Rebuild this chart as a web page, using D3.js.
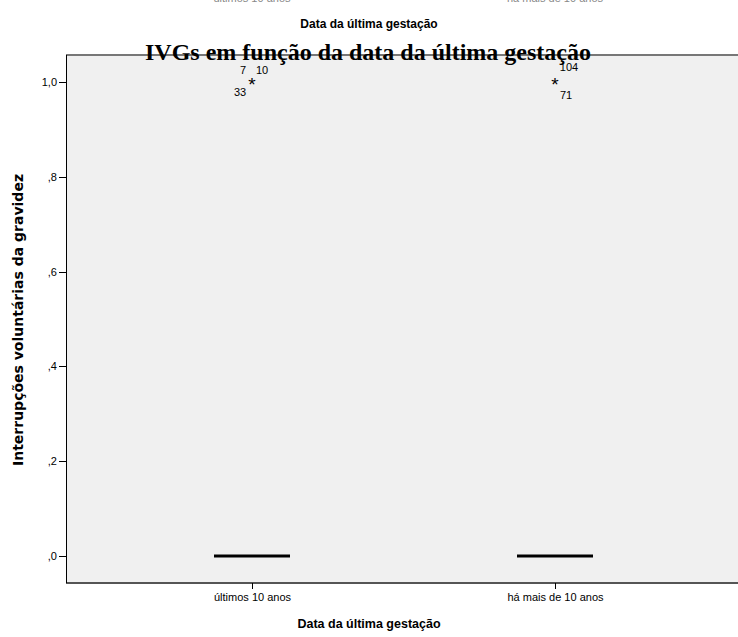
<!DOCTYPE html>
<html>
  <head>
    <title>IVGs em função da data da última gestação</title>
    <meta http-equiv="Content-Type" content="text/html; charset=utf-8">
    <style type="text/css">
      body { margin: 0; background: #fff; }
      .axis path { display: none; }
      .axis line { stroke: #000; shape-rendering: crispEdges; }
      .axis text { font-family: "Liberation Sans", Arial, sans-serif; font-size: 11px; fill: #000; }
    </style>
  </head>
  <body>
    <div id="main"></div>
    <script src="https://d3js.org/d3.v7.min.js"></script>
    <script>
    // Data
    var categories = ["últimos 10 anos", "há mais de 10 anos"];
    var medians = [0, 0];
    var q1 = [0, 0];
    var q3 = [0, 0];
    // extreme outliers (asterisks) with case labels
    var outlierCategory = ["últimos 10 anos", "há mais de 10 anos"];
    var outlierValue = [1, 1];
    var outlierLabels = [["7", "10", "33"], ["104", "71"]];
    var yTicks = [0, 0.2, 0.4, 0.6, 0.8, 1.0];

    var W = 738, H = 637;
    var margin = {top: 55, right: 0, bottom: 54, left: 66};
    var width = W - margin.left - margin.right,
        height = H - margin.top - margin.bottom;

    var svg = d3.select("#main").append("svg")
        .attr("width", W)
        .attr("height", H);

    // cropped remnants of a previous chart at the very top
    svg.append("g").selectAll("text")
      .data(categories)
      .enter().append("text")
        .attr("x", function(d, i) { return [252, 555][i]; })
        .attr("y", 2)
        .attr("text-anchor", "middle")
        .style("font-family", "Liberation Sans, Arial, sans-serif")
        .style("font-size", "11px")
        .style("fill", "#888")
        .text(function(d) { return d; });

    svg.append("text")
        .attr("x", 369)
        .attr("y", 28)
        .attr("text-anchor", "middle")
        .style("font-family", "Liberation Sans, Arial, sans-serif")
        .style("font-size", "12px")
        .style("font-weight", "bold")
        .text("Data da última gestação");

    var g = svg.append("g")
        .attr("transform", "translate(" + margin.left + "," + margin.top + ")");

    var x = d3.scalePoint().domain(categories).range([186, 489]);
    var y = d3.scaleLinear().domain([0, 1]).range([501, 27]);

    // plot background and frame
    g.append("rect")
        .attr("width", width)
        .attr("height", height)
        .attr("fill", "#f0f0f0");
    g.append("line")
        .attr("x1", 0).attr("x2", width).attr("y1", 0).attr("y2", 0)
        .attr("stroke", "#777").attr("stroke-width", 2);
    g.append("line")
        .attr("x1", 0).attr("x2", width).attr("y1", height).attr("y2", height)
        .attr("stroke", "#555").attr("stroke-width", 2);
    g.append("line")
        .attr("x1", 0.5).attr("x2", 0.5).attr("y1", 0).attr("y2", height)
        .attr("stroke", "#000").attr("stroke-width", 1);

    // Y axis
    g.append("g")
        .attr("class", "axis")
        .call(d3.axisLeft(y).tickValues(yTicks).tickSize(7).tickPadding(2)
          .tickFormat(function(d) { return d3.format(".1f")(d).replace("0.", ",").replace(".", ","); }));

    // X axis
    g.append("g")
        .attr("class", "axis")
        .attr("transform", "translate(0," + height + ")")
        .call(d3.axisBottom(x).tickSize(6).tickPadding(4));

    // boxes (collapsed to the median line)
    var boxW = 76;
    g.selectAll(".median")
      .data(categories)
      .enter().append("line")
        .attr("class", "median")
        .attr("x1", function(d) { return x(d) - boxW / 2; })
        .attr("x2", function(d) { return x(d) + boxW / 2; })
        .attr("y1", function(d, i) { return y(medians[i]); })
        .attr("y2", function(d, i) { return y(medians[i]); })
        .attr("stroke", "#000")
        .attr("stroke-width", 3);

    // extreme values
    g.selectAll(".star")
      .data(outlierCategory)
      .enter().append("text")
        .attr("class", "star")
        .attr("x", function(d) { return x(d); })
        .attr("y", function(d, i) { return y(outlierValue[i]) + 9; })
        .attr("text-anchor", "middle")
        .style("font-family", "Liberation Sans, Arial, sans-serif")
        .style("font-size", "19px")
        .text("*");

    // case labels around the asterisks
    var labelOffsets = [[[-9, -8], [10, -8], [-12, 14]], [[14, -11], [11, 17]]];
    outlierCategory.forEach(function(c, i) {
      outlierLabels[i].forEach(function(lab, j) {
        g.append("text")
          .attr("x", x(c) + labelOffsets[i][j][0])
          .attr("y", y(outlierValue[i]) + labelOffsets[i][j][1])
          .attr("text-anchor", "middle")
          .style("font-family", "Liberation Sans, Arial, sans-serif")
          .style("font-size", "11px")
          .text(lab);
      });
    });

    // Axis titles
    svg.append("text")
        .attr("x", 369)
        .attr("y", 628)
        .attr("text-anchor", "middle")
        .style("font-family", "Liberation Sans, Arial, sans-serif")
        .style("font-size", "12.5px")
        .style("font-weight", "bold")
        .text("Data da última gestação");

    svg.append("text")
        .attr("transform", "translate(23,320) rotate(-90)")
        .attr("text-anchor", "middle")
        .style("font-family", "DejaVu Sans, Verdana, sans-serif")
        .style("font-size", "14px")
        .style("font-weight", "bold")
        .text("Interrupções voluntárias da gravidez");

    // Title (overlaps the frame)
    svg.append("text")
        .attr("x", 368)
        .attr("y", 60)
        .attr("text-anchor", "middle")
        .style("font-family", "Liberation Serif, Times New Roman, serif")
        .style("font-size", "24px")
        .style("font-weight", "bold")
        .text("IVGs em função da data da última gestação");
    </script>
  </body>
</html>
